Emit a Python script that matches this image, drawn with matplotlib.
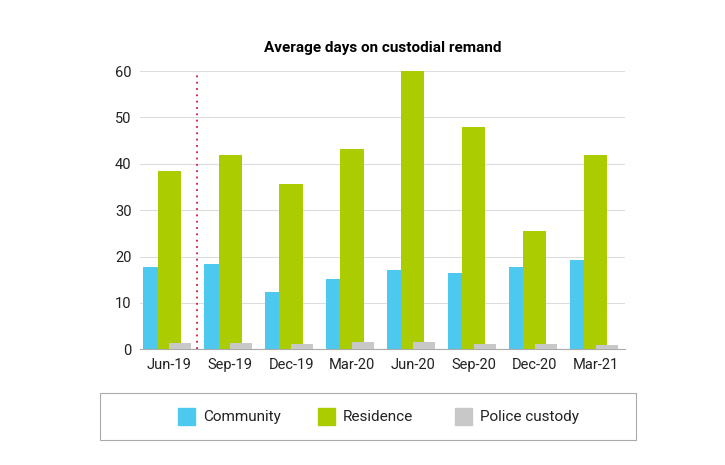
import matplotlib
matplotlib.use("Agg")
import matplotlib.pyplot as plt
import numpy as np
from matplotlib.patches import Rectangle

plt.rcParams["font.family"] = "Roboto"

categories = ["Jun-19", "Sep-19", "Dec-19", "Mar-20", "Jun-20", "Sep-20", "Dec-20", "Mar-21"]
community = [17.8, 18.3, 12.3, 15.2, 17.2, 16.5, 17.8, 19.3]
residence = [38.5, 42.0, 35.6, 43.2, 60.0, 48.0, 25.6, 42.0]
police = [1.3, 1.3, 1.2, 1.5, 1.5, 1.2, 1.2, 1.0]

fig = plt.figure(figsize=(7.25, 4.65), dpi=100)
ax = fig.add_axes([0.193, 0.249, 0.669, 0.598])
x = np.arange(len(categories))
c1, c2, c3 = "#4DC9F0", "#AACC00", "#C8C8C8"
ax.bar(x - 0.25, community, 0.35, color=c1, zorder=2, label="Community")
ax.bar(x, residence, 0.38, color=c2, zorder=3, label="Residence")
ax.bar(x + 0.18, police, 0.36, color=c3, zorder=4, label="Police custody")
ax.axvline(0.46, color="#D0183C", linestyle=(0, (1, 2.5)), linewidth=1.3, zorder=5)

ax.set_xlim(-0.48, 7.48)
ax.set_ylim(0, 60)
ax.set_yticks(range(0, 61, 10))
ax.set_xticks(x)
ax.set_xticklabels(categories)
ax.grid(axis="y", color="#DDDDDD", linewidth=0.8, zorder=0)
for s in ["top", "right", "left"]:
    ax.spines[s].set_visible(False)
ax.spines["bottom"].set_color("#AAAAAA")
ax.tick_params(axis="both", length=0, labelsize=10.5, colors="#222222", pad=6)
ax.set_title("Average days on custodial remand", fontsize=11, fontweight="bold", pad=14)

# legend box
fig.patches.append(Rectangle((100/725, 1-440/465), 536/725, 47/465, transform=fig.transFigure,
                             fill=False, edgecolor="#AAAAAA", linewidth=0.8))
items = [("Community", c1, 178), ("Residence", c2, 318), ("Police custody", c3, 455)]
for name, col, px in items:
    fig.patches.append(Rectangle((px/725, 1-425/465), 17/725, 17/465, transform=fig.transFigure,
                                 color=col))
    fig.text((px+25)/725, 1-417/465, name, fontsize=11, va="center", ha="left", color="#222222")

fig.savefig("out.png", dpi=100)
